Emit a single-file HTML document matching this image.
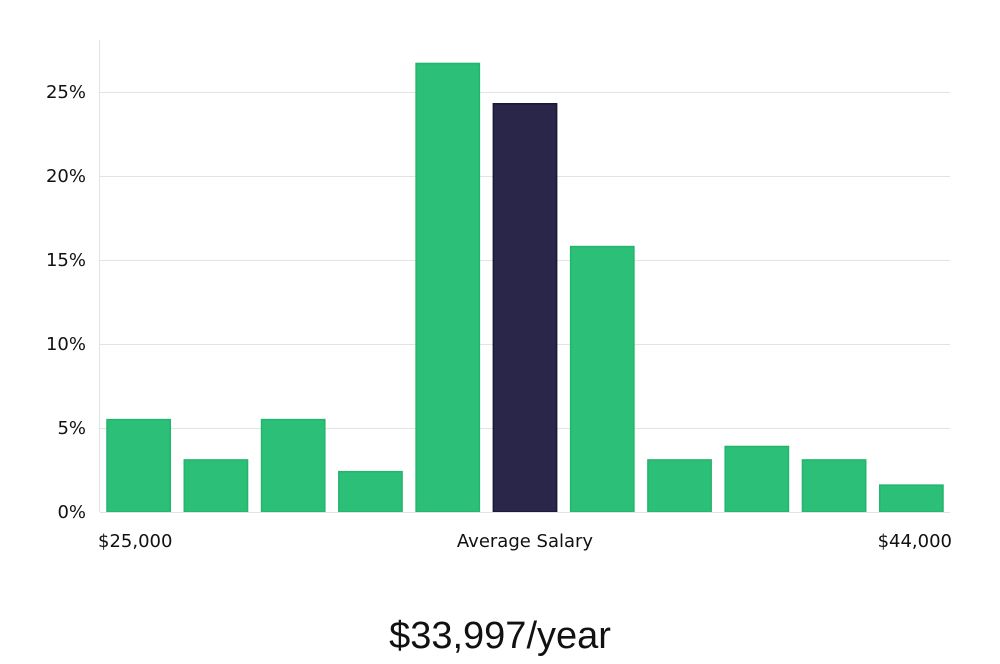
<!DOCTYPE html>
<html><head><meta charset="utf-8"><style>
body{margin:0;background:#fff;width:1000px;height:660px;overflow:hidden;font-family:"DejaVu Sans","Liberation Sans",sans-serif}
</style></head><body>
<svg width="1000" height="660">
<g id="grid"></g>
<line x1="99.5" y1="40" x2="99.5" y2="512" stroke="#e3e3e3"/>
<g id="bars"></g>
<line x1="100" y1="512.5" x2="950" y2="512.5" stroke="#e3e3e3"/>
<g id="ylabels"></g>
<text x="98" y="547" font-size="18" fill="#111">$25,000</text>
<text x="525" y="547" font-size="18" fill="#111" text-anchor="middle">Average Salary</text>
<text x="952" y="547" font-size="18" fill="#111" text-anchor="end">$44,000</text>
<text x="500" y="648" font-size="38" fill="#111" text-anchor="middle" font-family="'Liberation Sans',sans-serif">$33,997/year</text>
</svg>
<script>
const categories=["b1","b2","b3","b4","b5","b6","b7","b8","b9","b10","b11"];
const values=[5.5,3.1,5.5,2.4,26.7,24.3,15.8,3.1,3.9,3.1,1.6];
const highlight=[false,false,false,false,false,true,false,false,false,false,false];
const yTicks=[0,5,10,15,20,25];
const yTickLabels=["0%","5%","10%","15%","20%","25%"];
const ns="http://www.w3.org/2000/svg";
const x0=100,x1=950,yBase=512,pxPer=16.8;
const band=(x1-x0)/categories.length;
const xs=i=>x0+i*band+7;
const ys=v=>yBase-v*pxPer;
const grid=document.getElementById('grid'),yl=document.getElementById('ylabels'),bars=document.getElementById('bars');
yTicks.forEach((t,i)=>{
 if(t>0){const l=document.createElementNS(ns,'line');
 l.setAttribute('x1',x0);l.setAttribute('x2',x1);l.setAttribute('y1',ys(t)+0.5);l.setAttribute('y2',ys(t)+0.5);l.setAttribute('stroke','#e3e3e3');
 
 
 grid.appendChild(l);}
 const tx=document.createElementNS(ns,'text');
 tx.setAttribute('x',86);tx.setAttribute('y',ys(t)+6);tx.setAttribute('text-anchor','end');tx.setAttribute('font-size','18');tx.setAttribute('fill','#111');
 tx.textContent=yTickLabels[i];
 
 
 yl.appendChild(tx);
});
values.forEach((v,i)=>{
 const r=document.createElementNS(ns,'rect');
 r.setAttribute('x',xs(i));r.setAttribute('width',band-14);r.setAttribute('y',ys(v));r.setAttribute('height',v*pxPer);
 r.setAttribute('fill',highlight[i]?'#29264a':'#2bbf77');
 r.setAttribute('stroke',highlight[i]?'#1a1733':'#25b46d');r.setAttribute('stroke-width','1.5');
 
 
 bars.appendChild(r);
});
</script>
</body></html>
